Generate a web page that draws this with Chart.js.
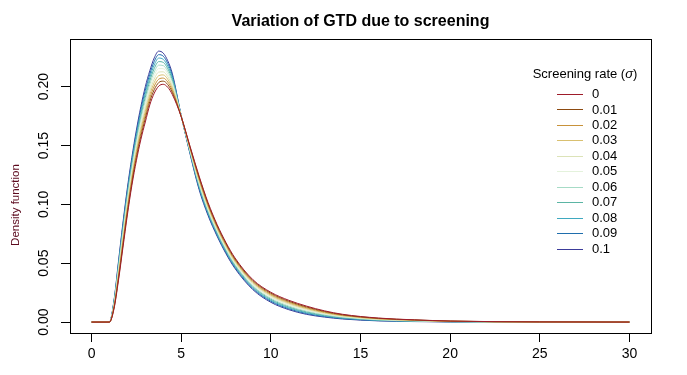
<!DOCTYPE html>
<html>
<head>
<meta charset="utf-8">
<script src="https://cdn.jsdelivr.net/npm/chart.js@4"></script>
<style>
  html, body { margin: 0; padding: 0; background: #fff; }
  #wrap { width: 687px; height: 375px; position: relative; }
</style>
</head>
<body>
<div id="wrap"><canvas id="gtdChart"></canvas></div>
<script>
const xs = [0, 1, 1.25, 1.5, 1.75, 2, 2.25, 2.5, 2.75, 3, 3.25, 3.5, 3.75, 4, 4.25, 4.5,
            5, 5.5, 6, 6.5, 7, 7.5, 8, 9, 10, 11, 12, 13, 14, 16, 18, 20, 25, 30];

// density for each screening rate
const s000 = [0, 0, 0.011, 0.035, 0.063, 0.091, 0.116, 0.137, 0.155, 0.170, 0.1845, 0.1945, 0.2005, 0.202, 0.1995, 0.1935,
              0.1745, 0.149, 0.124, 0.1015, 0.083, 0.0675, 0.0545, 0.036, 0.0253, 0.0185, 0.0135, 0.0095, 0.0066, 0.0034, 0.0019, 0.0009, 0.0001, 0];
const s001 = [0, 0, 0.0117, 0.0366, 0.0651, 0.0933, 0.1184, 0.1396, 0.1578, 0.173, 0.1874, 0.1975, 0.2035, 0.2047, 0.2018, 0.1953,
              0.1746, 0.1484, 0.1229, 0.1004, 0.082, 0.0666, 0.0536, 0.0352, 0.0245, 0.0177, 0.0128, 0.009, 0.0062, 0.0032, 0.0018, 0.0008, 0.0001, 0];
const s002 = [0, 0, 0.0124, 0.0382, 0.0672, 0.0956, 0.1208, 0.1422, 0.1606, 0.176, 0.1903, 0.2005, 0.2064, 0.2073, 0.204, 0.1971,
              0.1747, 0.1477, 0.1217, 0.0993, 0.081, 0.0656, 0.0527, 0.0343, 0.0236, 0.0169, 0.0121, 0.0084, 0.0058, 0.0029, 0.0016, 0.0007, 0.0001, 0];
const s003 = [0, 0, 0.0131, 0.0398, 0.0693, 0.0979, 0.1232, 0.1448, 0.1634, 0.179, 0.1932, 0.2035, 0.2094, 0.21, 0.2063, 0.1989,
              0.1748, 0.1471, 0.1206, 0.0982, 0.08, 0.0647, 0.0518, 0.0335, 0.0228, 0.0161, 0.0114, 0.0079, 0.0054, 0.0027, 0.0015, 0.0007, 0.0001, 0];
const s004 = [0, 0, 0.0138, 0.0414, 0.0714, 0.1002, 0.1256, 0.1474, 0.1662, 0.182, 0.1961, 0.2065, 0.2124, 0.2126, 0.2085, 0.2007,
              0.1749, 0.1464, 0.1194, 0.0971, 0.079, 0.0637, 0.0509, 0.0326, 0.0219, 0.0153, 0.0107, 0.0074, 0.005, 0.0024, 0.0013, 0.0006, 0.0001, 0];
const s005 = [0, 0, 0.0145, 0.043, 0.0735, 0.1025, 0.128, 0.15, 0.169, 0.185, 0.199, 0.2095, 0.2154, 0.2153, 0.2108, 0.2025,
              0.175, 0.1458, 0.1183, 0.096, 0.078, 0.0628, 0.05, 0.0318, 0.0211, 0.0145, 0.01, 0.0069, 0.0046, 0.0022, 0.0012, 0.0005, 0.0001, 0];
const s006 = [0, 0, 0.0152, 0.0446, 0.0756, 0.1048, 0.1304, 0.1526, 0.1718, 0.188, 0.2019, 0.2125, 0.2183, 0.2179, 0.213, 0.2043,
              0.1751, 0.1451, 0.1171, 0.0949, 0.077, 0.0618, 0.0491, 0.0309, 0.0202, 0.0137, 0.0093, 0.0063, 0.0042, 0.002, 0.001, 0.0004, 0, 0];
const s007 = [0, 0, 0.0159, 0.0462, 0.0777, 0.1071, 0.1328, 0.1552, 0.1746, 0.191, 0.2048, 0.2155, 0.2213, 0.2206, 0.2153, 0.2061,
              0.1752, 0.1445, 0.116, 0.0938, 0.076, 0.0609, 0.0482, 0.0301, 0.0194, 0.0129, 0.0086, 0.0058, 0.0038, 0.0017, 0.0009, 0.0003, 0, 0];
const s008 = [0, 0, 0.0166, 0.0478, 0.0798, 0.1094, 0.1352, 0.1578, 0.1774, 0.194, 0.2077, 0.2185, 0.2243, 0.2232, 0.2175, 0.2079,
              0.1753, 0.1438, 0.1148, 0.0927, 0.075, 0.0599, 0.0473, 0.0292, 0.0185, 0.0121, 0.0079, 0.0053, 0.0034, 0.0015, 0.0007, 0.0003, 0, 0];
const s009 = [0, 0, 0.0173, 0.0494, 0.0819, 0.1117, 0.1376, 0.1604, 0.1802, 0.197, 0.2106, 0.2215, 0.2272, 0.2259, 0.2198, 0.2097,
              0.1754, 0.1432, 0.1137, 0.0916, 0.074, 0.059, 0.0464, 0.0284, 0.0177, 0.0113, 0.0072, 0.0047, 0.003, 0.0012, 0.0006, 0.0002, 0, 0];
const s010 = [0, 0, 0.018, 0.051, 0.084, 0.114, 0.140, 0.163, 0.183, 0.200, 0.2135, 0.2245, 0.2302, 0.2285, 0.222, 0.2115,
              0.1755, 0.1425, 0.1125, 0.0905, 0.073, 0.058, 0.0455, 0.0275, 0.0168, 0.0105, 0.0065, 0.0042, 0.0026, 0.001, 0.0004, 0.0001, 0, 0];

const rateLabels = ['0', '0.01', '0.02', '0.03', '0.04', '0.05', '0.06', '0.07', '0.08', '0.09', '0.1'];
const series = [s000, s001, s002, s003, s004, s005, s006, s007, s008, s009, s010];
const colors = ['#9e1b2a', '#8c4a10', '#c8923a', '#d9c070', '#dce3b8', '#e4f2dc',
                '#a6dbc6', '#5bb5a4', '#3fa9c0', '#1f6ead', '#3b3b9a'];

const xTicks = [0, 5, 10, 15, 20, 25, 30];
const yTicks = [0, 0.05, 0.10, 0.15, 0.20];

const FONT = '"Liberation Sans", Arial, Helvetica, sans-serif';

const datasets = series.map((vals, i) => ({
    label: rateLabels[i],
    data: xs.map((x, j) => ({ x: x, y: vals[j] })),
    borderColor: colors[i],
    borderWidth: 1,
    pointRadius: 0,
    fill: false,
    cubicInterpolationMode: 'monotone'
}));

// box, title, y label and legend in R style
const rDecor = {
    id: 'rDecor',
    afterDraw(chart) {
        const ctx = chart.ctx;
        const a = chart.chartArea;
        ctx.save();
        ctx.strokeStyle = '#000';
        ctx.lineWidth = 1;
        ctx.strokeRect(Math.round(a.left) + 0.5, Math.round(a.top) + 0.5,
                       Math.round(a.right - a.left), Math.round(a.bottom - a.top));

        // title
        ctx.fillStyle = '#000';
        ctx.font = 'bold 16px ' + FONT;
        ctx.textAlign = 'center';
        ctx.textBaseline = 'alphabetic';
        ctx.fillText('Variation of GTD due to screening', (a.left + a.right) / 2, 26);

        // y axis title
        ctx.save();
        ctx.translate(16, 205);
        ctx.rotate(-Math.PI / 2);
        ctx.fillStyle = '#5c0a1e';
        ctx.font = '11.5px ' + FONT;
        ctx.textBaseline = 'middle';
        ctx.fillText('Density function', 0, 0);
        ctx.restore();

        // legend title
        ctx.font = '13px ' + FONT;
        ctx.textAlign = 'left';
        ctx.textBaseline = 'middle';
        const p1 = 'Screening rate (', p3 = ')';
        const w1 = ctx.measureText(p1).width;
        ctx.font = 'italic 13px ' + FONT;
        const w2 = ctx.measureText('\u03c3').width;
        ctx.font = '13px ' + FONT;
        const w3 = ctx.measureText(p3).width;
        let tx = 585 - (w1 + w2 + w3) / 2;
        ctx.fillText(p1, tx, 74);
        ctx.font = 'italic 13px ' + FONT;
        ctx.fillText('\u03c3', tx + w1, 74);
        ctx.font = '13px ' + FONT;
        ctx.fillText(p3, tx + w1 + w2, 74);

        // legend entries
        chart.data.datasets.forEach((ds, i) => {
            const y = 94 + i * 15.45;
            ctx.strokeStyle = ds.borderColor;
            ctx.beginPath();
            ctx.moveTo(557, Math.round(y) + 0.5);
            ctx.lineTo(583, Math.round(y) + 0.5);
            ctx.stroke();
            ctx.fillStyle = '#000';
            ctx.fillText(ds.label, 592, y + 0.5);
        });
        ctx.restore();
    }
};

new Chart(document.getElementById('gtdChart'), {
    type: 'line',
    data: { datasets: datasets },
    options: {
        responsive: true,
        maintainAspectRatio: false,
        animation: false,
        devicePixelRatio: 1,
        layout: { padding: { top: 39, right: 36, left: 0, bottom: 0 } },
        plugins: { legend: { display: false }, tooltip: { enabled: false } },
        scales: {
            x: {
                type: 'linear',
                min: -1.2,
                max: 31.2,
                afterBuildTicks: s => { s.ticks = xTicks.map(v => ({ value: v })); },
                afterFit: s => { s.height = 42; },
                grid: { drawOnChartArea: false, drawTicks: true, tickLength: 9, tickColor: '#000', lineWidth: 1 },
                border: { display: false },
                ticks: {
                    color: '#000', padding: 4, maxRotation: 0, autoSkip: false,
                    font: { family: FONT, size: 14 },
                    callback: v => String(v)
                }
            },
            y: {
                type: 'linear',
                min: -0.0093,
                max: 0.2405,
                afterBuildTicks: s => { s.ticks = yTicks.map(v => ({ value: v })); },
                afterFit: s => { s.width = 70; },
                grid: { drawOnChartArea: false, drawTicks: true, tickLength: 9, tickColor: '#000', lineWidth: 1 },
                border: { display: false },
                ticks: {
                    color: '#000', padding: 3, minRotation: 90, maxRotation: 90, crossAlign: 'center',
                    font: { family: FONT, size: 14 },
                    callback: v => v.toFixed(2)
                }
            }
        }
    },
    plugins: [rDecor]
});
</script>
</body>
</html>
